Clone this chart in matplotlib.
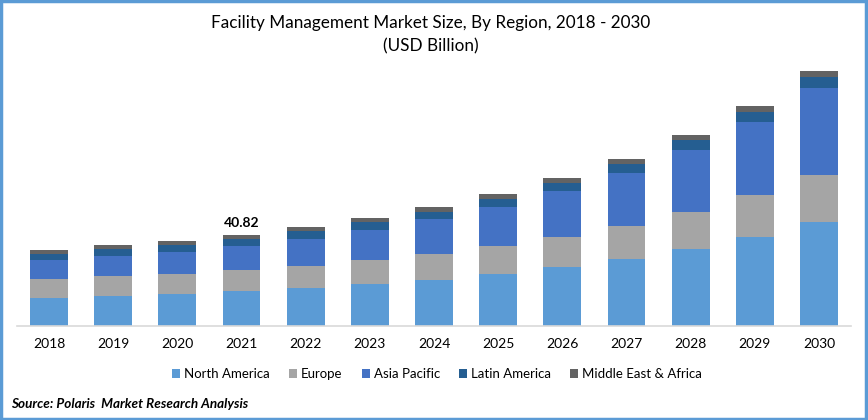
import numpy as np
import matplotlib.pyplot as plt
from matplotlib.patches import Rectangle

plt.rcParams['font.family'] = ['Lato', 'DejaVu Sans']

# Data (USD Billion)
years = ['2018', '2019', '2020', '2021', '2022', '2023', '2024',
         '2025', '2026', '2027', '2028', '2029', '2030']
north_america = [12.5, 13.4, 14.3, 15.7, 17.0, 18.8, 20.6, 23.2, 26.4, 30.0, 34.4, 39.8, 46.5]
europe = [8.5, 8.9, 9.0, 9.4, 9.8, 10.7, 11.6, 12.5, 13.4, 14.8, 16.5, 18.8, 21.0]
asia_pacific = [8.5, 8.9, 9.8, 10.7, 12.1, 13.4, 15.6, 17.4, 20.6, 23.7, 27.7, 32.6, 38.9]
latin_america = [2.7, 3.1, 3.1, 3.1, 3.6, 3.6, 3.2, 3.6, 3.6, 4.0, 4.5, 4.5, 4.9]
mea = [1.8, 1.8, 1.8, 1.9, 1.8, 1.8, 2.2, 2.2, 2.2, 2.2, 2.2, 2.7, 2.7]

series = [
    ('North America', north_america, '#5B9BD5'),
    ('Europe', europe, '#A5A5A5'),
    ('Asia Pacific', asia_pacific, '#4472C4'),
    ('Latin America', latin_america, '#255E91'),
    ('Middle East & Africa', mea, '#636363'),
]

fig = plt.figure(figsize=(8.68, 4.2), dpi=100)
ax = fig.add_axes([17 / 868, 1 - 326 / 420, 834 / 868, 266 / 420])

x = np.arange(len(years))
bottom = np.zeros(len(years))
for name, vals, col in series:
    ax.bar(x, vals, 0.59, bottom=bottom, color=col, label=name)
    bottom += np.array(vals)

# annotate 2021 total
ax.text(3, bottom[3] + 2.5, '40.82', ha='center', va='bottom',
        fontsize=10, fontweight='bold')

ax.set_xlim(-0.5, 12.5)
ax.set_ylim(0, 119)
ax.set_xticks(x)
ax.set_xticklabels(years, fontsize=10)
ax.tick_params(axis='x', length=0, pad=9)
ax.set_yticks([])
for s in ['top', 'right', 'left']:
    ax.spines[s].set_visible(False)
ax.spines['bottom'].set_color('#D9D9D9')
ax.spines['bottom'].set_linewidth(1.2)

fig.text(0.496, 1 - 23 / 420, 'Facility Management Market Size, By Region, 2018 - 2030',
         ha='center', va='center', fontsize=12.3)
fig.text(0.496, 1 - 46 / 420, '(USD Billion)', ha='center', va='center', fontsize=12.3)

fig.legend(loc='center', bbox_to_anchor=(437 / 868, 1 - 374 / 420), ncol=5,
           frameon=False, fontsize=9.5, handlelength=0.6, handleheight=0.6,
           handletextpad=0.3, columnspacing=1.45)

fig.text(11 / 868, 1 - 404 / 420, 'Source: Polaris  Market Research Analysis',
         ha='left', va='center', fontsize=9.7, fontweight='bold', style='italic')

# blue frame around the figure
fig.patches.append(Rectangle((0.001, 0.003), 0.997, 0.994, transform=fig.transFigure,
                             fill=False, edgecolor='#5B9BD5', linewidth=2.5))

fig.savefig('out.png', dpi=100)
